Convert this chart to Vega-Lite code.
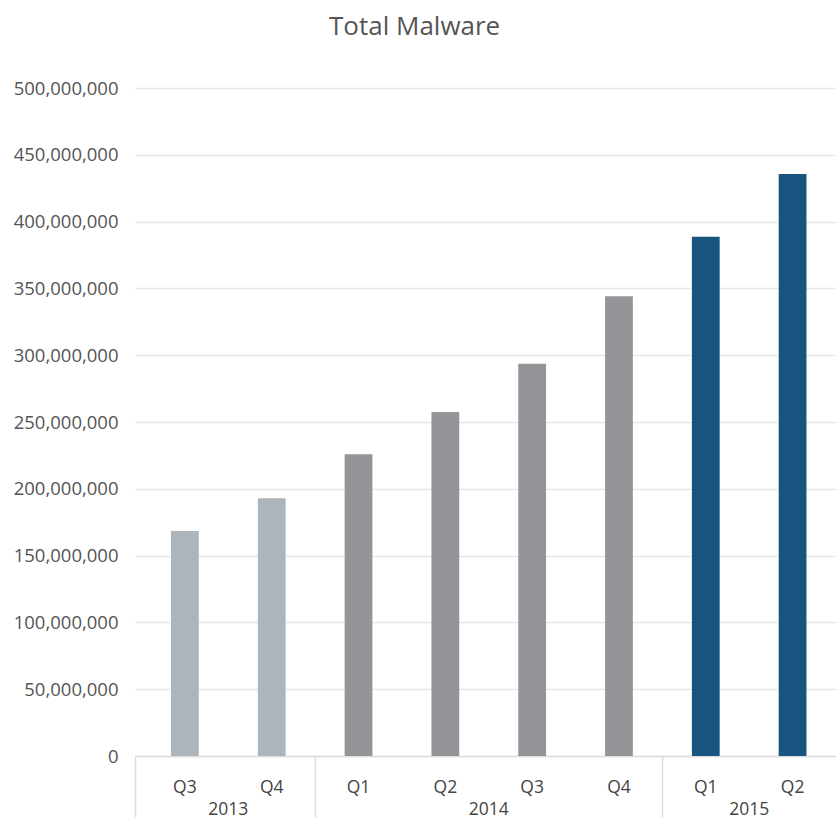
{
  "$schema": "https://vega.github.io/schema/vega-lite/v6.json",
  "autosize": {"type": "none"},
  "padding": {"left": 135, "top": 88, "right": 0, "bottom": 61},
  "width": 701,
  "height": 668,
  "background": "white",
  "title": {
    "text": "Total Malware",
    "fontSize": 26,
    "font": "Open Sans",
    "fontWeight": "normal",
    "color": "#555555",
    "anchor": "middle",
    "frame": "bounds",
    "baseline": "bottom",
    "offset": 13,
    "dx": -10
  },
  "config": {
    "view": {"stroke": null},
    "font": "Open Sans"
  },
  "data": {
    "values": [
      {"key": "2013 Q3", "year": "2013", "quarter": "Q3", "malware": 168400000},
      {"key": "2013 Q4", "year": "2013", "quarter": "Q4", "malware": 192900000},
      {"key": "2014 Q1", "year": "2014", "quarter": "Q1", "malware": 225800000},
      {"key": "2014 Q2", "year": "2014", "quarter": "Q2", "malware": 257500000},
      {"key": "2014 Q3", "year": "2014", "quarter": "Q3", "malware": 293600000},
      {"key": "2014 Q4", "year": "2014", "quarter": "Q4", "malware": 344100000},
      {"key": "2015 Q1", "year": "2015", "quarter": "Q1", "malware": 388700000},
      {"key": "2015 Q2", "year": "2015", "quarter": "Q2", "malware": 435600000}
    ]
  },
  "layer": [
    {
      "mark": {"type": "bar", "width": {"band": 0.32}},
      "encoding": {
        "x": {
          "field": "key", "type": "ordinal", "sort": null,
          "scale": {"paddingInner": 0, "paddingOuter": 0.0375, "align": 1},
          "axis": {
            "orient": "bottom", "title": null,
            "labelExpr": "substring(datum.value, 5)",
            "labelAngle": 0, "labelFontSize": 17.5, "labelColor": "#444444",
            "labelPadding": 22, "ticks": false,
            "domain": true, "domainColor": "#dddddd", "domainWidth": 1.5,
            "grid": false
          }
        },
        "y": {
          "field": "malware", "type": "quantitative",
          "scale": {"domain": [0, 500000000]},
          "axis": {
            "title": null, "format": ",d", "values": [0, 50000000, 100000000, 150000000, 200000000, 250000000, 300000000, 350000000, 400000000, 450000000, 500000000],
            "labelFontSize": 18.5, "labelColor": "#555555", "labelPadding": 17,
            "ticks": false, "domain": false,
            "grid": true, "gridColor": "#e6e6e6", "gridWidth": 1.5
          }
        },
        "color": {
          "field": "year", "type": "nominal",
          "scale": {"domain": ["2013", "2014", "2015"], "range": ["#adb5bc", "#939598", "#17547f"]},
          "legend": null
        }
      }
    },
    {
      "mark": {"type": "bar", "opacity": 0},
      "encoding": {
        "x": {
          "field": "key", "type": "ordinal", "sort": null,
          "axis": {
            "orient": "bottom", "title": null, "bandPosition": 0,
            "labelExpr": "indexof(['2013 Q4','2014 Q3','2015 Q2'], datum.value) >= 0 ? substring(datum.value, 0, 4) : ''",
            "labelAngle": 0, "labelFontSize": 17.5, "labelColor": "#444444",
            "labelPadding": -18, "labelOffset": -43.4,
            "ticks": true, "tickSize": 62, "tickWidth": 1.5,
            "tickColor": {"condition": {"test": "datum.value == '2014 Q1' || datum.value == '2015 Q1'", "value": "#dddddd"}, "value": "transparent"},
            "domain": false, "grid": false
          }
        },
        "y": {"field": "malware", "type": "quantitative"}
      }
    },
    {
      "mark": {"type": "bar", "opacity": 0},
      "encoding": {
        "x": {
          "field": "key", "type": "ordinal", "sort": null,
          "axis": {
            "orient": "bottom", "title": null, "bandPosition": 0, "tickOffset": -6.5,
            "labels": false,
            "ticks": true, "tickSize": 62, "tickWidth": 1.5,
            "tickColor": {"condition": {"test": "datum.value == '2013 Q3'", "value": "#dddddd"}, "value": "transparent"},
            "domain": false, "grid": false
          }
        },
        "y": {"field": "malware", "type": "quantitative"}
      }
    }
  ],
  "resolve": {"axis": {"x": "independent"}}
}
